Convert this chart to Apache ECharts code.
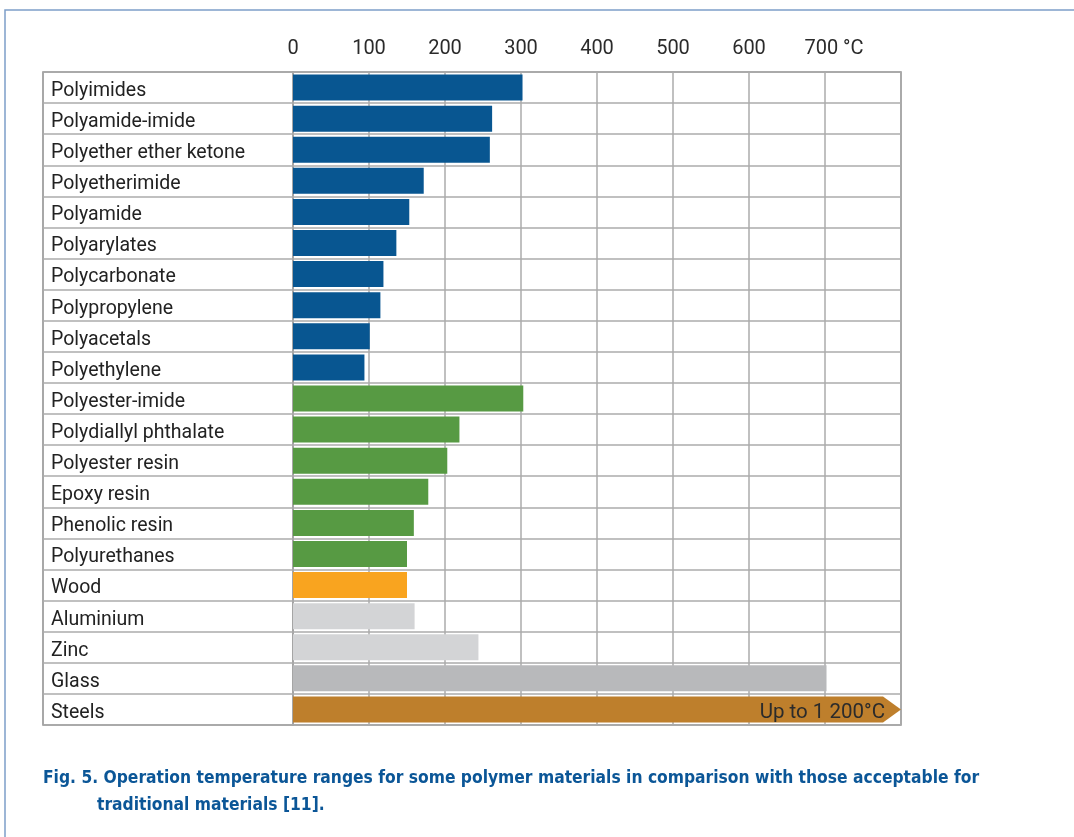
<!DOCTYPE html>
<html>
<head>
<meta charset="utf-8">
<script src="https://cdn.jsdelivr.net/npm/echarts@6/dist/echarts.min.js"></script>
<style>
  html, body { margin: 0; padding: 0; background: #fff; }
  #chart { width: 1074px; height: 837px; }
</style>
</head>
<body>
<div id="chart"></div>
<script>
// Materials, top to bottom
const materials = [
  'Polyimides', 'Polyamide-imide', 'Polyether ether ketone', 'Polyetherimide',
  'Polyamide', 'Polyarylates', 'Polycarbonate', 'Polypropylene', 'Polyacetals',
  'Polyethylene', 'Polyester-imide', 'Polydiallyl phthalate', 'Polyester resin',
  'Epoxy resin', 'Phenolic resin', 'Polyurethanes', 'Wood', 'Aluminium', 'Zinc',
  'Glass', 'Steels'
];
// Upper operating temperature, °C
const maxTemperature = [
  302, 262, 259, 172, 153, 136, 119, 115, 101, 94,
  303, 219, 203, 178, 159, 150, 150, 160, 244, 702, 1200
];
// Material class for each row
const materialGroup = [
  'thermoplastic', 'thermoplastic', 'thermoplastic', 'thermoplastic', 'thermoplastic',
  'thermoplastic', 'thermoplastic', 'thermoplastic', 'thermoplastic', 'thermoplastic',
  'thermoset', 'thermoset', 'thermoset', 'thermoset', 'thermoset', 'thermoset',
  'wood', 'metal', 'metal', 'glass', 'steel'
];
// Temperature scale tick labels
const tickLabels = ['0', '100', '200', '300', '400', '500', '600', '700 °C', ''];
const steelNote = 'Up to 1 200°C';
const captionLine1 = 'Fig. 5. Operation temperature ranges for some polymer materials in comparison with those acceptable for';
const captionLine2 = 'traditional materials [11].';

const groupColor = {
  thermoplastic: '#085691',
  thermoset: '#579A43',
  wood: '#F9A41F',
  metal: '#D3D4D6',
  glass: '#B8B9BB',
  steel: '#BE7F2C'
};

const AXIS_MAX = 800;
const lineColor = '#ababab';
const fontFamily = 'Roboto, "Noto Sans", sans-serif';
const captionFont = '"DejaVu Sans Condensed", "DejaVu Sans", sans-serif';

const barData = maxTemperature.map((v, i) =>
  materialGroup[i] === 'steel'
    ? '-'
    : { value: v, itemStyle: { color: groupColor[materialGroup[i]] } }
);
const arrowData = maxTemperature
  .map((v, i) => (materialGroup[i] === 'steel' ? [v, i] : null))
  .filter(Boolean);

const chart = echarts.init(document.getElementById('chart'), null, { renderer: 'canvas' });

chart.setOption({
  animation: false,
  backgroundColor: '#fff',
  grid: [
    { left: 293, right: 173, top: 72, bottom: 112, show: true, borderColor: '#8c8c8c', borderWidth: 1.5 },
    { left: 43, width: 250, top: 72, bottom: 112, show: true, borderColor: '#8c8c8c', borderWidth: 1.5 }
  ],
  xAxis: [
    {
      gridIndex: 0,
      type: 'value',
      position: 'top',
      min: 0,
      max: AXIS_MAX,
      interval: 100,
      axisLine: { show: false },
      axisTick: { show: false },
      splitLine: { show: true, lineStyle: { color: lineColor, width: 1.5 } },
      axisLabel: {
        margin: 13,
        fontFamily,
        fontSize: 20,
        color: '#2b2b2b',
        formatter: (v) => {
          const t = tickLabels[Math.round(v / 100)];
          return t.indexOf('°') >= 0 ? '{unit|' + t + '}' : t;
        },
        rich: {
          unit: { fontFamily, fontSize: 20, color: '#2b2b2b', padding: [0, 0, 0, 18] }
        }
      }
    },
    { gridIndex: 1, type: 'value', show: false, min: 0, max: 1 }
  ],
  yAxis: [
    {
      gridIndex: 0,
      type: 'category',
      inverse: true,
      data: materials,
      axisLine: { show: false },
      axisTick: { show: false },
      axisLabel: { show: false },
      splitLine: { show: true, lineStyle: { color: lineColor, width: 1.5 } }
    },
    {
      gridIndex: 1,
      type: 'category',
      inverse: true,
      data: materials,
      axisLine: { show: false },
      axisTick: { show: false },
      splitLine: { show: true, lineStyle: { color: lineColor, width: 1.5 } },
      axisLabel: {
        inside: true,
        margin: 8,
        formatter: (v) => '{name|' + v + '}',
        rich: {
          name: {
            fontFamily,
            fontSize: 19.5,
            color: '#222',
            padding: [7, 0, 0, 0]
          }
        }
      }
    }
  ],
  series: [
    {
      type: 'bar',
      xAxisIndex: 0,
      yAxisIndex: 0,
      data: barData,
      barWidth: 26,
      silent: true
    },
    {
      // Open-ended arrow for values past the end of the scale
      type: 'custom',
      xAxisIndex: 0,
      yAxisIndex: 0,
      data: arrowData,
      encode: { x: 0, y: 1 },
      clip: false,
      silent: true,
      renderItem: (params, api) => {
        const idx = api.value(1);
        const v = Math.min(api.value(0), AXIS_MAX);
        const start = api.coord([0, idx]);
        const end = api.coord([v, idx]);
        const h = 26;
        const head = 18;
        const y0 = start[1] - h / 2;
        const y1 = start[1] + h / 2;
        return {
          type: 'group',
          children: [
            {
              type: 'polygon',
              shape: {
                points: [
                  [start[0], y0], [end[0] - head, y0], [end[0], start[1]],
                  [end[0] - head, y1], [start[0], y1]
                ]
              },
              style: { fill: groupColor.steel }
            },
            {
              type: 'text',
              x: end[0] - head + 2,
              y: start[1] + 3,
              style: {
                text: steelNote,
                align: 'right',
                verticalAlign: 'middle',
                fontFamily,
                fontSize: 20.5,
                fill: '#2b2b2b'
              }
            }
          ]
        };
      }
    }
  ],
  graphic: [
    {
      type: 'polyline',
      shape: { points: [[5, 837], [5, 10], [1074, 10]] },
      style: { stroke: '#7d9fc9', lineWidth: 1.5, fill: null },
      silent: true
    },
    {
      type: 'text',
      left: 43,
      top: 770,
      style: {
        text: captionLine1,
        fontFamily: captionFont,
        fontWeight: 'bold',
        fontSize: 17.3,
        fill: '#0b5697'
      }
    },
    {
      type: 'text',
      left: 97,
      top: 797,
      style: {
        text: captionLine2,
        fontFamily: captionFont,
        fontWeight: 'bold',
        fontSize: 17.3,
        fill: '#0b5697'
      }
    }
  ]
});
</script>
</body>
</html>
